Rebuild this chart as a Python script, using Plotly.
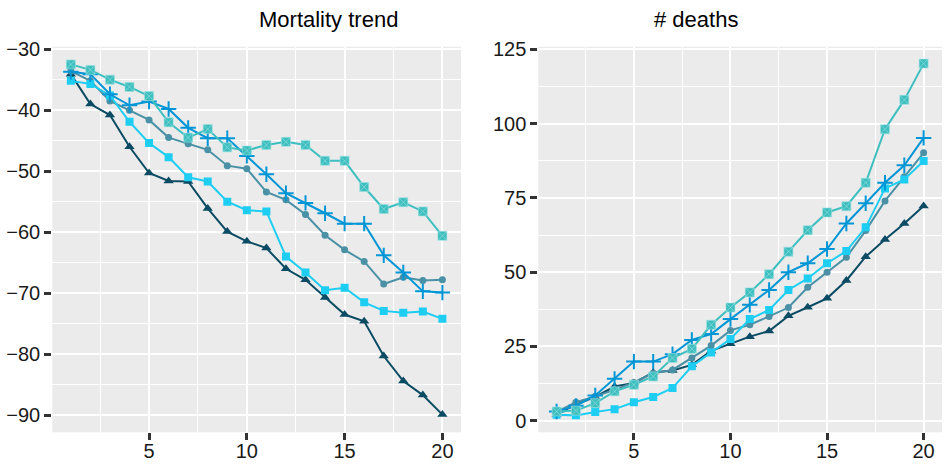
import plotly.graph_objects as go

x = list(range(1, 21))

# Mortality trend (left panel)
trend_dark = [-34.1, -39.0, -40.8, -46.0, -50.3, -51.6, -51.7, -56.1, -59.9, -61.5,
              -62.6, -66.0, -67.8, -70.7, -73.5, -74.6, -80.3, -84.4, -86.7, -89.9]
trend_steel = [-33.6, -35.2, -38.5, -40.0, -41.6, -44.5, -45.5, -46.5, -49.1, -49.6,
               -53.4, -54.7, -57.1, -60.5, -62.9, -64.8, -68.5, -67.4, -67.9, -67.8]
trend_cyan = [-35.2, -35.7, -37.6, -41.9, -45.4, -47.7, -51.0, -51.7, -55.0, -56.4,
              -56.6, -64.0, -66.6, -69.5, -69.1, -71.5, -72.9, -73.2, -73.0, -74.2]
trend_blue = [-33.7, -34.1, -37.4, -39.2, -38.6, -39.8, -42.9, -44.6, -44.6, -47.5,
              -50.5, -53.6, -55.2, -56.9, -58.6, -58.6, -63.8, -66.6, -69.7, -69.9]
trend_teal = [-32.5, -33.4, -35.0, -36.2, -37.7, -42.0, -44.5, -43.1, -46.1, -46.6,
              -45.7, -45.2, -45.7, -48.3, -48.3, -52.6, -56.2, -55.1, -56.6, -60.6]

# Number of deaths (right panel)
deaths_dark = [2.2, 5.4, 8.0, 11.5, 12.7, 16.2, 16.9, 18.8, 23.5, 25.9,
               28.3, 30.2, 35.3, 38.2, 41.2, 47.2, 55.2, 61.0, 66.4, 72.3]
deaths_steel = [3.0, 6.2, 8.2, 10.4, 12.9, 16.0, 17.1, 21.1, 25.3, 30.4,
                32.3, 35.1, 38.1, 44.9, 50.0, 55.0, 64.0, 74.0, 82.1, 90.2]
deaths_cyan = [2.0, 1.8, 2.9, 3.9, 6.2, 8.0, 11.0, 18.3, 23.0, 27.5,
               34.2, 37.3, 44.0, 47.9, 53.0, 57.1, 65.1, 78.2, 81.2, 87.4]
deaths_blue = [3.1, 5.0, 8.5, 14.1, 19.9, 19.9, 22.4, 27.2, 29.2, 34.2,
               39.0, 44.0, 50.0, 53.0, 57.8, 66.4, 73.2, 80.1, 86.0, 95.2]
deaths_teal = [3.1, 3.4, 5.9, 9.9, 12.1, 14.9, 21.1, 24.2, 32.3, 38.1,
               43.2, 49.3, 56.9, 64.1, 70.1, 72.2, 80.1, 98.1, 108.0, 120.2]

titles = ["Mortality trend", "# deaths"]
x_ticks = [5, 10, 15, 20]
y1_ticks = [-30, -40, -50, -60, -70, -80, -90]
y1_labels = ["\u221230", "\u221240", "\u221250", "\u221260", "\u221270", "\u221280", "\u221290"]
y2_ticks = [0, 25, 50, 75, 100, 125]
y2_labels = ["0", "25", "50", "75", "100", "125"]

styles = [
    dict(color="#0B4B63", symbol="triangle-up", size=9, lw=0),
    dict(color="#4A91A6", symbol="circle", size=7, lw=0),
    dict(color="#1ECDF2", symbol="square", size=8, lw=0),
    dict(color="#0096D6", symbol="cross-thin", size=11, lw=2),
    dict(color="#3DBFC0", symbol="square-x", size=9, lw=0.6),
]
left = [trend_dark, trend_steel, trend_cyan, trend_blue, trend_teal]
right = [deaths_dark, deaths_steel, deaths_cyan, deaths_blue, deaths_teal]

fig = go.Figure()
for data, xa, ya in [(left, "x", "y"), (right, "x2", "y2")]:
    for vals, st in zip(data, styles):
        mline = dict(width=st["lw"], color=st["color"])
        if st["symbol"] == "square-x":
            mline = dict(width=st["lw"], color="#9FE0E0")
        fig.add_trace(go.Scatter(
            x=x, y=vals, mode="lines+markers", xaxis=xa, yaxis=ya,
            line=dict(color=st["color"], width=2),
            marker=dict(symbol=st["symbol"], size=st["size"], color=st["color"], line=mline),
            showlegend=False, hoverinfo="skip"))

font_family = "Liberation Sans, Arial, sans-serif"
axis_common = dict(
    showgrid=True, gridcolor="white", gridwidth=2,
    zeroline=False, showline=False, automargin=False,
    ticks="outside", ticklen=7, tickwidth=2.5, tickcolor="#333333",
    tickfont=dict(family=font_family, size=20, color="#1a1a1a"),
    fixedrange=True,
)

def minor(d):
    return dict(showgrid=True, gridcolor="white", gridwidth=1, dtick=d, tick0=0, ticks="")

fig.update_layout(
    template="none",
    width=945, height=466,
    margin=dict(l=0, r=0, t=0, b=0),
    paper_bgcolor="white", plot_bgcolor="#EBEBEB",
    font=dict(family=font_family),
    xaxis=dict(domain=[0.0553, 0.4878], range=[0.05, 20.95], tickvals=x_ticks,
               minor=minor(2.5), anchor="y", ticklabelstandoff=-6, **axis_common),
    yaxis=dict(domain=[0.0723, 0.8998], range=[-92.8, -29.6], tickvals=y1_ticks, ticktext=y1_labels,
               minor=minor(5), anchor="x", **axis_common),
    xaxis2=dict(domain=[0.5696, 0.9968], range=[0.05, 20.95], tickvals=x_ticks,
                minor=minor(2.5), anchor="y2", ticklabelstandoff=-6, **axis_common),
    yaxis2=dict(domain=[0.0723, 0.8998], range=[-3.9, 125.9], tickvals=y2_ticks, ticktext=y2_labels,
                minor=minor(12.5), anchor="x2", **axis_common),
    annotations=[
        dict(text=titles[0], x=(0.0553 + 0.4878) / 2, y=1 - 19 / 466, xref="paper", yref="paper",
             showarrow=False, font=dict(size=22, color="black", family=font_family), yanchor="middle"),
        dict(text=titles[1], x=(0.5696 + 0.9968) / 2, y=1 - 19 / 466, xref="paper", yref="paper",
             showarrow=False, font=dict(size=22, color="black", family=font_family), yanchor="middle"),
    ],
)

fig.write_html("out.html")
